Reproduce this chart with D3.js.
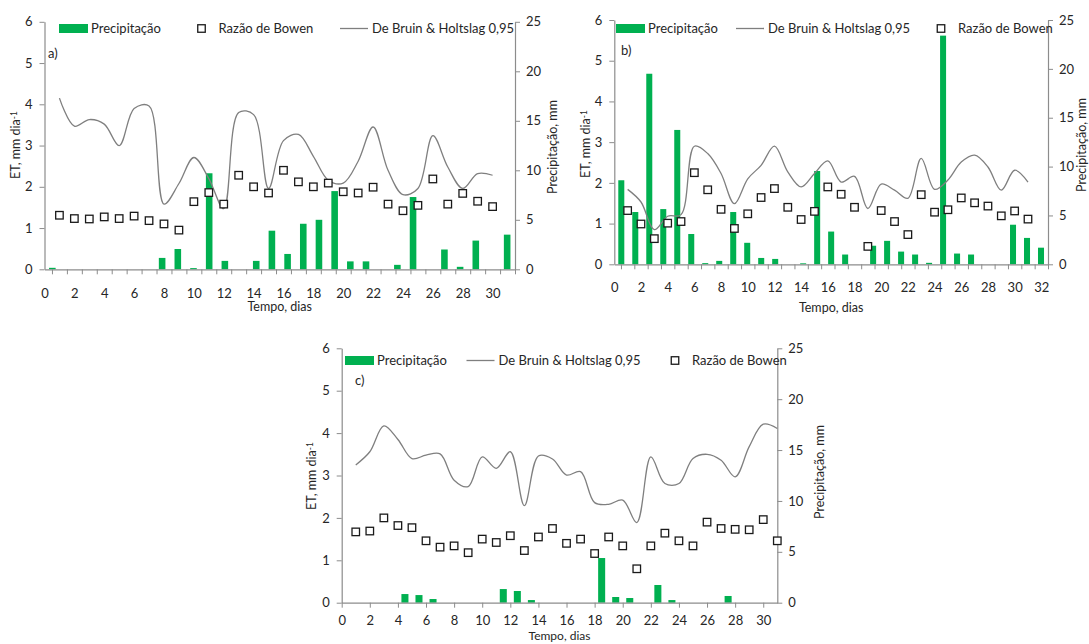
<!DOCTYPE html>
<html>
<head>
<meta charset="utf-8">
<script src="https://cdn.jsdelivr.net/npm/d3@7/dist/d3.min.js"></script>
<style>
  body { margin: 0; background: #fff; }
  text { font-family: Lato, "Open Sans", sans-serif; fill: #262626; }
</style>
</head>
<body>
<svg id="chart" width="1089" height="644"></svg>
<script>
// ---- data ----
var etTicks = [0, 1, 2, 3, 4, 5, 6];
var precTicks = [0, 5, 10, 15, 20, 25];
var dayLabelsA = [0, 2, 4, 6, 8, 10, 12, 14, 16, 18, 20, 22, 24, 26, 28, 30];
var dayLabelsB = [0, 2, 4, 6, 8, 10, 12, 14, 16, 18, 20, 22, 24, 26, 28, 30, 32];
var dayLabelsC = [0, 2, 4, 6, 8, 10, 12, 14, 16, 18, 20, 22, 24, 26, 28, 30];

// panel a)
var daysA = [1, 2, 3, 4, 5, 6, 7, 8, 9, 10, 11, 12, 13, 14, 15, 16, 17, 18, 19, 20, 21, 22, 23, 24, 25, 26, 27, 28, 29, 30];
var precipA = [0.15, 0, 0, 0, 0, 0, 0, 1.15, 2.05, 0.12, 9.7, 0.85, 0, 0.85, 3.9, 1.55, 4.6, 5.0, 7.9, 0.8, 0.8, 0, 0.45, 7.3, 0, 2.0, 0.25, 2.9, 0, 3.5];
var bowenA = [1.31, 1.23, 1.22, 1.27, 1.23, 1.29, 1.18, 1.10, 0.95, 1.64, 1.86, 1.58, 2.28, 2.0, 1.85, 2.40, 2.12, 2.0, 2.09, 1.88, 1.85, 1.99, 1.58, 1.42, 1.55, 2.19, 1.58, 1.84, 1.65, 1.52];
var bruinA = [4.15, 3.47, 3.63, 3.52, 3.0, 3.9, 3.96, 1.58, 2.08, 2.71, 2.2, 1.47, 3.8, 3.75, 1.96, 3.12, 3.27, 2.74, 2.16, 2.09, 2.62, 3.45, 2.40, 1.81, 1.96, 3.24, 2.48, 1.96, 2.32, 2.28];

// panel b)
var daysB = [1, 2, 3, 4, 5, 6, 7, 8, 9, 10, 11, 12, 13, 14, 15, 16, 17, 18, 19, 20, 21, 22, 23, 24, 25, 26, 27, 28, 29, 30, 31];
var precipB = [8.6, 5.35, 19.5, 5.65, 13.75, 3.1, 0.12, 0.35, 5.35, 2.2, 0.65, 0.55, 0, 0.1, 9.55, 3.35, 1.0, 0, 1.9, 2.4, 1.3, 1.0, 0.15, 23.4, 1.1, 1.0, 0, 0, 4.05, 2.7, 1.7];
var bowenB = [1.32, 0.99, 0.63, 1.01, 1.05, 2.25, 1.83, 1.35, 0.88, 1.24, 1.64, 1.86, 1.40, 1.10, 1.30, 1.90, 1.72, 1.40, 0.44, 1.32, 1.05, 0.73, 1.71, 1.28, 1.34, 1.63, 1.51, 1.43, 1.19, 1.31, 1.11];
var bruinB = [1.84, 1.53, 0.85, 1.18, 1.22, 2.9, 2.72, 2.23, 1.49, 2.1, 2.43, 2.9, 2.27, 1.9, 2.23, 2.54, 2.02, 2.16, 1.37, 1.97, 1.82, 1.62, 2.6, 1.84, 2.07, 2.51, 2.68, 2.39, 1.82, 2.31, 2.02];

// panel c)
var daysC = [1, 2, 3, 4, 5, 6, 7, 8, 9, 10, 11, 12, 13, 14, 15, 16, 17, 18, 19, 20, 21, 22, 23, 24, 25, 26, 27, 28, 29, 30, 31];
var precipC = [0, 0, 0, 0, 0.85, 0.75, 0.36, 0, 0, 0, 0, 1.34, 1.15, 0.26, 0, 0, 0, 0, 4.39, 0.56, 0.46, 0, 1.74, 0.26, 0, 0, 0, 0.66, 0, 0, 0];
var bowenC = [1.67, 1.69, 2.0, 1.82, 1.77, 1.46, 1.31, 1.34, 1.18, 1.50, 1.42, 1.58, 1.23, 1.55, 1.75, 1.40, 1.50, 1.16, 1.55, 1.34, 0.80, 1.34, 1.64, 1.46, 1.34, 1.90, 1.75, 1.73, 1.72, 1.96, 1.46];
var bruinC = [3.25, 3.56, 4.17, 3.85, 3.40, 3.48, 3.51, 2.89, 2.74, 3.44, 3.17, 3.56, 2.29, 3.46, 3.39, 3.01, 3.09, 2.36, 2.32, 2.42, 1.89, 3.44, 2.81, 2.81, 3.40, 3.50, 3.36, 2.97, 3.68, 4.21, 4.11];

var green = "#00b050";
var lineGray = "#7f7f7f";
var axisGray = "#8c8c8c";
var fmt = d3.format("d");

var svg = d3.select("#chart");

function drawPanel(p) {
  var g = svg.append("g");

  var x = d3.scaleLinear().domain([0, p.xMax]).range([p.left, p.right]);
  var yE = d3.scaleLinear().domain([0, 6]).range([p.bottom, p.top]);
  var yP = d3.scaleLinear().domain([0, 25]).range([p.bottom, p.top]);
  var xb = d3.scaleBand()
    .domain(p.days.slice(0, p.precip.length))
    .range([p.left, p.right])
    .paddingInner(p.barPad)
    .paddingOuter(p.barPad / 2);

  // bars
  g.selectAll(".bar")
    .data(p.precip)
    .enter()
    .append("rect")
    .attr("x", function(d, i) { return xb(p.days[i]); })
    .attr("width", xb.bandwidth())
    .attr("y", function(d) { return yP(d); })
    .attr("height", function(d) { return p.bottom - yP(d); })
    .style("fill", green);

  // axes
  var left = g.append("g")
    .attr("transform", "translate(" + p.left + ",0)")
    .call(d3.axisLeft(yE).tickValues(etTicks).tickFormat(fmt).tickSize(5).tickSizeOuter(0).tickPadding(7));
  var right = g.append("g")
    .attr("transform", "translate(" + p.right + ",0)")
    .call(d3.axisRight(yP).tickValues(precTicks).tickFormat(fmt).tickSize(5).tickSizeOuter(0).tickPadding(6));

  var bottom;
  if (p.halfTicks) {
    var halfs = d3.range(0.5, p.xMax + 0.01, 1);
    g.append("g")
      .attr("transform", "translate(0," + p.bottom + ")")
      .call(d3.axisBottom(x).tickValues(halfs).tickSize(5).tickSizeOuter(0).tickFormat(""))
      .call(styleAxis);
    bottom = g.append("g")
      .attr("transform", "translate(0," + p.bottom + ")")
      .call(d3.axisBottom(x).tickValues(p.dayLabels).tickFormat(fmt).tickSize(0).tickSizeOuter(0).tickPadding(p.xLabelPad));
    bottom.select(".domain").remove();
  } else {
    bottom = g.append("g")
      .attr("transform", "translate(0," + p.bottom + ")")
      .call(d3.axisBottom(x).tickValues(p.dayLabels).tickFormat(fmt).tickSize(5).tickSizeOuter(0).tickPadding(p.xLabelPad - 5));
  }
  [left, right, bottom].forEach(styleAxis);

  // De Bruin & Holtslag line
  var line = d3.line()
    .x(function(d, i) { return x(p.days[i]); })
    .y(function(d) { return yE(d); })
    .curve(d3.curveCatmullRom.alpha(0.5));
  g.append("path")
    .datum(p.bruin)
    .attr("d", line)
    .style("fill", "none")
    .style("stroke", lineGray)
    .style("stroke-width", 1.3);

  // Bowen ratio squares
  g.selectAll(".sq")
    .data(p.bowen)
    .enter()
    .append("rect")
    .attr("x", function(d, i) { return x(p.days[i]) - 3.75; })
    .attr("y", function(d) { return yE(d) - 3.75; })
    .attr("width", 7.5)
    .attr("height", 7.5)
    .style("fill", "#fff")
    .style("stroke", "#1a1a1a")
    .style("stroke-width", 1.3);

  // axis titles
  var lt = g.append("text")
    .attr("transform", "translate(" + p.leftTitle[0] + "," + p.leftTitle[1] + ") rotate(-90)")
    .attr("text-anchor", "middle")
    .attr("dy", "0.35em")
    .style("font-size", "12.5px")
    .text("ET, mm dia");
  lt.append("tspan")
    .attr("dy", "-0.45em")
    .style("font-size", "8.5px")
    .text("-1");

  g.append("text")
    .attr("transform", "translate(" + p.rightTitle[0] + "," + p.rightTitle[1] + ") rotate(-90)")
    .attr("text-anchor", "middle")
    .attr("dy", "0.35em")
    .style("font-size", "12.5px")
    .text("Precipitação, mm");

  g.append("text")
    .attr("x", (p.left + p.right) / 2)
    .attr("y", p.xTitleY)
    .attr("text-anchor", "middle")
    .style("font-size", p.xTitleSize)
    .text("Tempo, dias");

  g.append("text")
    .attr("x", p.tag[0])
    .attr("y", p.tag[1])
    .style("font-size", "13px")
    .text(p.tagText);

  // legend
  var ly = p.legendY;
  p.legend.forEach(function(item) {
    if (item.kind === "bar") {
      g.append("rect")
        .attr("x", item.x).attr("y", ly - 4.5)
        .attr("width", 29).attr("height", 9)
        .style("fill", green);
      g.append("text").attr("x", item.x + 32).attr("y", ly).attr("dy", "0.35em")
        .style("font-size", "13px").text("Precipitação");
    } else if (item.kind === "line") {
      g.append("line")
        .attr("x1", item.x).attr("x2", item.x + 28)
        .attr("y1", ly).attr("y2", ly)
        .style("stroke", lineGray).style("stroke-width", 1.3);
      g.append("text").attr("x", item.x + 32).attr("y", ly).attr("dy", "0.35em")
        .style("font-size", "13px").text("De Bruin & Holtslag 0,95");
    } else {
      g.append("rect")
        .attr("x", item.x - 3.75).attr("y", ly - 3.75)
        .attr("width", 7.5).attr("height", 7.5)
        .style("fill", "#fff").style("stroke", "#1a1a1a").style("stroke-width", 1.3);
      g.append("text").attr("x", item.x + 17).attr("y", ly).attr("dy", "0.35em")
        .style("font-size", "13px").text("Razão de Bowen");
    }
  });
}

function styleAxis(sel) {
  sel.select(".domain").style("stroke", axisGray).style("stroke-width", 1.2);
  sel.selectAll(".tick line").style("stroke", axisGray).style("stroke-width", 1);
  sel.selectAll(".tick text")
    .style("font-family", "Lato, 'Open Sans', sans-serif")
    .style("font-size", "13px")
    .style("fill", "#262626");
}

drawPanel({
  left: 44.5, right: 515, top: 21.8, bottom: 269.3, xMax: 31.5,
  days: daysA, precip: precipA, bowen: bowenA, bruin: bruinA,
  dayLabels: dayLabelsA, halfTicks: true, xLabelPad: 19, barPad: 0.58,
  leftTitle: [16, 145], rightTitle: [553, 147], xTitleY: 311, xTitleSize: "12.5px",
  tag: [48, 58], tagText: "a)", legendY: 28.5,
  legend: [{ kind: "bar", x: 59 }, { kind: "square", x: 201.5 }, { kind: "line", x: 340 }]
});

drawPanel({
  left: 614.3, right: 1048, top: 20, bottom: 264.3, xMax: 32.5,
  days: daysB, precip: precipB, bowen: bowenB, bruin: bruinB,
  dayLabels: dayLabelsB, halfTicks: true, xLabelPad: 18, barPad: 0.57,
  leftTitle: [586, 144], rightTitle: [1082, 145], xTitleY: 312, xTitleSize: "12.5px",
  tag: [621, 55], tagText: "b)", legendY: 28.5,
  legend: [{ kind: "bar", x: 616 }, { kind: "line", x: 736 }, { kind: "square", x: 941 }]
});

drawPanel({
  left: 341.7, right: 777.3, top: 348.3, bottom: 602.7, xMax: 31,
  days: daysC, precip: precipC, bowen: bowenC, bruin: bruinC,
  dayLabels: dayLabelsC, halfTicks: false, xLabelPad: 13, barPad: 0.5,
  leftTitle: [312, 476], rightTitle: [820, 472], xTitleY: 640, xTitleSize: "12px",
  tag: [355, 385], tagText: "c)", legendY: 360.5,
  legend: [{ kind: "bar", x: 345 }, { kind: "line", x: 466.5 }, { kind: "square", x: 675 }]
});
</script>
</body>
</html>
